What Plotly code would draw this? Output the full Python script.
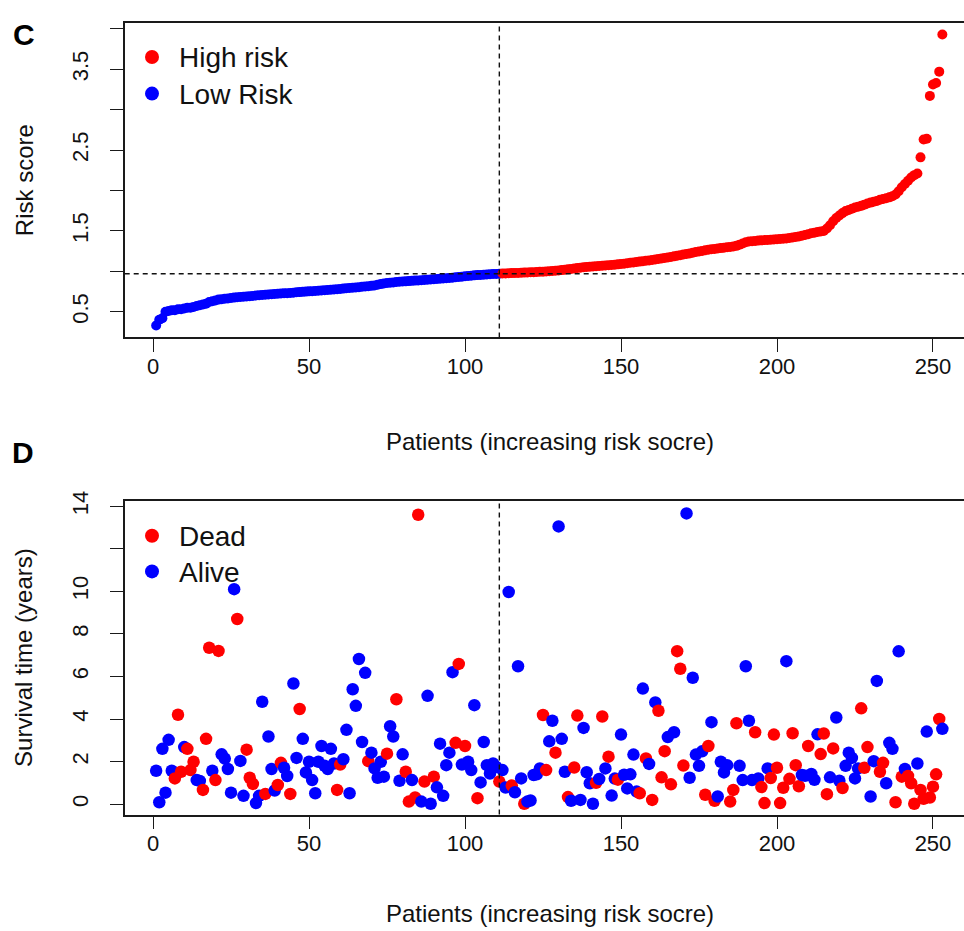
import plotly.graph_objects as go

# ---------------- data ----------------
risk_score = [
    0.33, 0.40, 0.42, 0.50, 0.51, 0.52, 0.52, 0.53, 0.53, 0.54,
    0.55, 0.55, 0.56, 0.57, 0.58, 0.59, 0.60, 0.62, 0.63, 0.64,
    0.650, 0.655, 0.660, 0.665, 0.670, 0.675, 0.680, 0.683, 0.686, 0.690,
    0.693, 0.696, 0.700, 0.703, 0.706, 0.710, 0.713, 0.716, 0.720, 0.722,
    0.725, 0.728, 0.730, 0.733, 0.736, 0.740, 0.743, 0.746, 0.749, 0.752,
    0.755, 0.758, 0.761, 0.764, 0.767, 0.770, 0.773, 0.776, 0.779, 0.782,
    0.786, 0.790, 0.794, 0.797, 0.800, 0.804, 0.808, 0.812, 0.816, 0.820,
    0.826, 0.834, 0.842, 0.849, 0.855, 0.859, 0.863, 0.867, 0.870, 0.873,
    0.876, 0.879, 0.882, 0.885, 0.888, 0.891, 0.894, 0.897, 0.900, 0.903,
    0.906, 0.909, 0.912, 0.915, 0.918, 0.922, 0.926, 0.930, 0.934, 0.938,
    0.942, 0.946, 0.950, 0.953, 0.956, 0.959, 0.962, 0.964, 0.966, 0.968,
    0.970, 0.972, 0.974, 0.976, 0.978, 0.979, 0.980, 0.982, 0.984, 0.986,
    0.988, 0.990, 0.992, 0.994, 0.996, 0.998, 1.000, 1.003, 1.006, 1.010,
    1.015, 1.020, 1.025, 1.030, 1.035, 1.040, 1.045, 1.050, 1.055, 1.058,
    1.061, 1.064, 1.067, 1.070, 1.073, 1.076, 1.079, 1.082, 1.086, 1.090,
    1.095, 1.100, 1.105, 1.110, 1.115, 1.120, 1.125, 1.130, 1.135, 1.140,
    1.147, 1.154, 1.160, 1.166, 1.172, 1.178, 1.185, 1.192, 1.200, 1.208,
    1.215, 1.222, 1.230, 1.238, 1.245, 1.252, 1.260, 1.266, 1.272, 1.277,
    1.282, 1.287, 1.292, 1.297, 1.302, 1.307, 1.315, 1.330, 1.345, 1.360,
    1.368, 1.372, 1.376, 1.380, 1.383, 1.386, 1.389, 1.392, 1.395, 1.398,
    1.400, 1.403, 1.407, 1.412, 1.418, 1.425, 1.432, 1.440, 1.450, 1.460,
    1.470, 1.478, 1.486, 1.494, 1.500, 1.530, 1.570, 1.620, 1.660, 1.690,
    1.720, 1.745, 1.760, 1.775, 1.790, 1.800, 1.810, 1.825, 1.840, 1.850,
    1.860, 1.870, 1.885, 1.895, 1.905, 1.915, 1.930, 1.950, 1.990, 2.040,
    2.080, 2.120, 2.160, 2.190, 2.210, 2.410, 2.630, 2.640, 3.170, 3.310,
    3.330, 3.470, 3.930,
]

survival_years = [
    1.57, 0.09, 2.60, 0.54, 3.02, 1.57, 1.21, 4.20, 1.52, 2.68,
    2.60, 1.60, 1.99, 1.13, 1.09, 0.67, 3.07, 7.35, 1.57, 1.13,
    7.20, 2.34, 2.14, 1.65, 0.54, 10.10, 8.70, 2.03, 0.39, 2.56,
    1.24, 0.95, 0.05, 0.39, 4.81, 0.48, 3.18, 1.65, 0.64, 0.90,
    1.94, 1.71, 1.32, 0.48, 5.67, 2.17, 4.47, 3.07, 1.49, 1.99,
    1.13, 0.51, 1.99, 2.73, 1.80, 1.65, 2.60, 1.91, 0.67, 1.86,
    2.11, 3.49, 0.51, 5.40, 4.62, 6.82, 2.92, 6.17, 2.02, 2.42,
    1.68, 1.24, 1.99, 1.29, 2.37, 3.66, 3.18, 4.93, 1.10, 2.34,
    1.52, 0.12, 1.13, 0.31, 13.60, 0.12, 1.06, 5.09, 0.02, 1.29,
    0.79, 2.84, 0.39, 1.83, 2.42, 6.20, 2.88, 6.59, 1.86, 2.73,
    1.99, 1.60, 4.65, 0.28, 1.02, 2.92, 1.83, 1.44, 1.91, 1.75,
    1.06, 1.60, 0.78, 9.97, 0.87, 0.56, 6.48, 1.21, 0.02, 0.12,
    0.17, 1.37, 1.40, 1.68, 4.19, 1.60, 2.95, 3.92, 2.42, 13.05,
    3.07, 1.52, 0.33, 0.16, 1.72, 4.16, 0.20, 3.58, 1.50, 0.98,
    0.02, 1.00, 1.18, 4.12, 1.68, 2.23, 0.40, 1.20, 1.15, 3.27,
    1.38, 0.74, 1.40, 2.33, 0.59, 0.51, 5.43, 2.15, 1.89, 0.20,
    4.78, 4.39, 1.26, 2.49, 3.15, 0.93, 3.38, 7.19, 6.36, 1.81,
    13.66, 1.24, 5.94, 2.33, 1.80, 2.48, 0.44, 2.73, 3.85, 0.16,
    0.36, 1.99, 1.49, 1.83, 0.12, 0.67, 3.80, 1.80, 1.13, 6.48,
    3.92, 1.13, 3.38, 1.21, 0.80, 0.05, 1.68, 1.23, 3.27, 1.71,
    0.05, 0.77, 6.72, 1.19, 3.33, 1.83, 0.84, 1.37, 1.33, 2.73,
    1.42, 1.14, 3.28, 2.35, 3.32, 0.47, 1.26, 2.62, 4.07, 1.10,
    0.76, 1.80, 2.42, 2.17, 1.21, 1.68, 4.50, 1.71, 2.68, 0.36,
    2.02, 5.79, 1.52, 1.94, 0.98, 2.88, 2.60, 0.09, 7.18, 1.29,
    1.65, 1.32, 0.98, 0.02, 1.91, 0.67, 0.25, 3.41, 0.31, 0.82,
    1.40, 4.00, 3.54,
]

# 1 = Dead, 0 = Alive
status_dead = [
    0, 0, 0, 0, 0, 0, 1, 1, 1, 0,
    1, 1, 1, 0, 0, 1, 1, 1, 0, 1,
    1, 0, 0, 0, 0, 0, 1, 0, 0, 1,
    1, 1, 0, 0, 0, 1, 0, 0, 0, 1,
    1, 0, 0, 1, 0, 0, 1, 0, 0, 0,
    0, 0, 0, 0, 0, 0, 0, 0, 1, 1,
    0, 0, 0, 0, 0, 0, 0, 0, 1, 0,
    0, 0, 0, 0, 1, 0, 0, 1, 0, 0,
    1, 1, 0, 1, 1, 0, 1, 0, 0, 1,
    0, 0, 0, 0, 0, 0, 1, 1, 0, 1,
    0, 0, 0, 1, 0, 0, 0, 0, 0, 0,
    1, 0, 0, 0, 1, 0, 0, 0, 1, 0,
    0, 0, 0, 0, 1, 1, 0, 0, 1, 0,
    0, 0, 1, 0, 1, 1, 0, 0, 0, 0,
    0, 1, 0, 1, 0, 1, 0, 0, 1, 0,
    0, 0, 0, 0, 0, 1, 0, 1, 0, 1,
    0, 1, 1, 1, 0, 1, 0, 1, 1, 1,
    0, 0, 0, 0, 0, 0, 1, 1, 0, 1,
    0, 0, 0, 0, 1, 1, 1, 0, 0, 0,
    0, 0, 1, 0, 1, 1, 0, 1, 1, 1,
    1, 1, 0, 1, 1, 1, 1, 0, 0, 1,
    0, 0, 0, 1, 1, 1, 0, 1, 0, 0,
    1, 0, 0, 0, 0, 0, 1, 1, 1, 0,
    0, 0, 1, 1, 0, 0, 0, 1, 0, 1,
    0, 1, 1, 1, 0, 1, 1, 0, 1, 1,
    1, 1, 0,
]

n_low = 111  # number of low-risk patients
x_ticks = [0, 50, 100, 150, 200, 250]
risk_ticks = [0.5, 1.0, 1.5, 2.0, 2.5, 3.0, 3.5, 4.0]
risk_ticktext = ["0.5", "", "1.5", "", "2.5", "", "3.5", ""]
surv_ticks = [0, 2, 4, 6, 8, 10, 12, 14]
surv_ticktext = ["0", "2", "4", "6", "8", "10", "", "14"]

patients = list(range(1, len(risk_score) + 1))
cutoff_score = risk_score[n_low - 1]

RED = "#FF0000"
BLUE = "#0000FF"
W, H = 964, 931
FONT = "Liberation Sans, Arial, Helvetica, sans-serif"


def fx(p):
    return p / W


def fy(p):
    return 1 - p / H


fig = go.Figure()

fig.add_trace(go.Scatter(
    x=patients, y=risk_score, mode="markers",
    marker=dict(color=[BLUE if p <= n_low else RED for p in patients], size=10, line=dict(width=0)),
    xaxis="x", yaxis="y", showlegend=False, hoverinfo="skip"))

fig.add_trace(go.Scatter(
    x=patients, y=survival_years, mode="markers",
    marker=dict(color=[RED if s else BLUE for s in status_dead], size=12.5, line=dict(width=0)),
    xaxis="x2", yaxis="y2", showlegend=False, hoverinfo="skip"))

xdom = [fx(124.7), 1.0]
xrange_ = [-9.08, 259.94]
axis_common = dict(showgrid=False, zeroline=False, showline=True, linecolor="#1a1a1a", linewidth=1.6,
                   ticks="outside", ticklen=13, tickwidth=1.4, tickcolor="#1a1a1a",
                   tickfont=dict(family=FONT, size=22, color="#111"))

fig.update_layout(
    width=W, height=H, margin=dict(l=0, r=0, t=0, b=0),
    paper_bgcolor="white", plot_bgcolor="white",
    xaxis=dict(domain=xdom, range=xrange_, anchor="y", tickvals=x_ticks, mirror=True,
               ticklabelstandoff=-5, **axis_common),
    yaxis=dict(domain=[fy(331), fy(13.3)], range=[0.182, 4.07], anchor="x", tickvals=risk_ticks,
               ticktext=risk_ticktext, tickangle=-90, ticklabelstandoff=13, **axis_common),
    xaxis2=dict(domain=xdom, range=xrange_, anchor="y2", tickvals=x_ticks, mirror=True,
                ticklabelstandoff=-5, **axis_common),
    yaxis2=dict(domain=[fy(813.3), fy(496)], range=[-0.49, 14.26], anchor="x2", tickvals=surv_ticks,
                ticktext=surv_ticktext, tickangle=-90, ticklabelstandoff=13, **axis_common),
)

dash = dict(color="#111", width=1.4, dash="5px,4px")
fig.add_shape(type="line", xref="x", yref="y domain", x0=n_low, x1=n_low, y0=0, y1=1, line=dash)
fig.add_shape(type="line", xref="x domain", yref="y", x0=0, x1=1, y0=cutoff_score, y1=cutoff_score, line=dash)
fig.add_shape(type="line", xref="x2", yref="y2 domain", x0=n_low, x1=n_low, y0=0, y1=1, line=dash)

# legends (drawn manually, R-style)
legend_items = [("High risk", RED, 47.5), ("Low Risk", BLUE, 84.5), ("Dead", RED, 531.5), ("Alive", BLUE, 567.5)]
for label, col, ypx in legend_items:
    fig.add_shape(type="circle", xref="paper", yref="paper", xsizemode="pixel", ysizemode="pixel",
                  xanchor=fx(152), yanchor=fy(ypx), x0=-7, x1=7, y0=-7, y1=7,
                  fillcolor=col, line=dict(width=0))
    fig.add_annotation(x=fx(177), y=fy(ypx + 1), xref="paper", yref="paper", text=label, showarrow=False,
                       xanchor="left", yanchor="middle", font=dict(family=FONT, size=28, color="#111"))

# axis titles
titles = [
    ("Risk score", fx(24), fy(172), -90),
    ("Survival time (years)", fx(24), fy(655), -90),
    ("Patients (increasing risk socre)", fx(550), fy(436), 0),
    ("Patients (increasing risk socre)", fx(550), fy(913), 0),
]
for txt, x, y, ang in titles:
    fig.add_annotation(x=x, y=y, xref="paper", yref="paper", text=txt, showarrow=False, textangle=ang,
                       xanchor="center", yanchor="middle", font=dict(family=FONT, size=24, color="#111"))

# panel letters
for txt, x, y in [("C", 24, 25), ("D", 23, 447)]:
    fig.add_annotation(x=fx(x), y=fy(y), xref="paper", yref="paper", text="<b>%s</b>" % txt, showarrow=False,
                       xanchor="center", yanchor="middle", font=dict(family=FONT, size=30, color="#000"))

fig.write_html("out.html")
